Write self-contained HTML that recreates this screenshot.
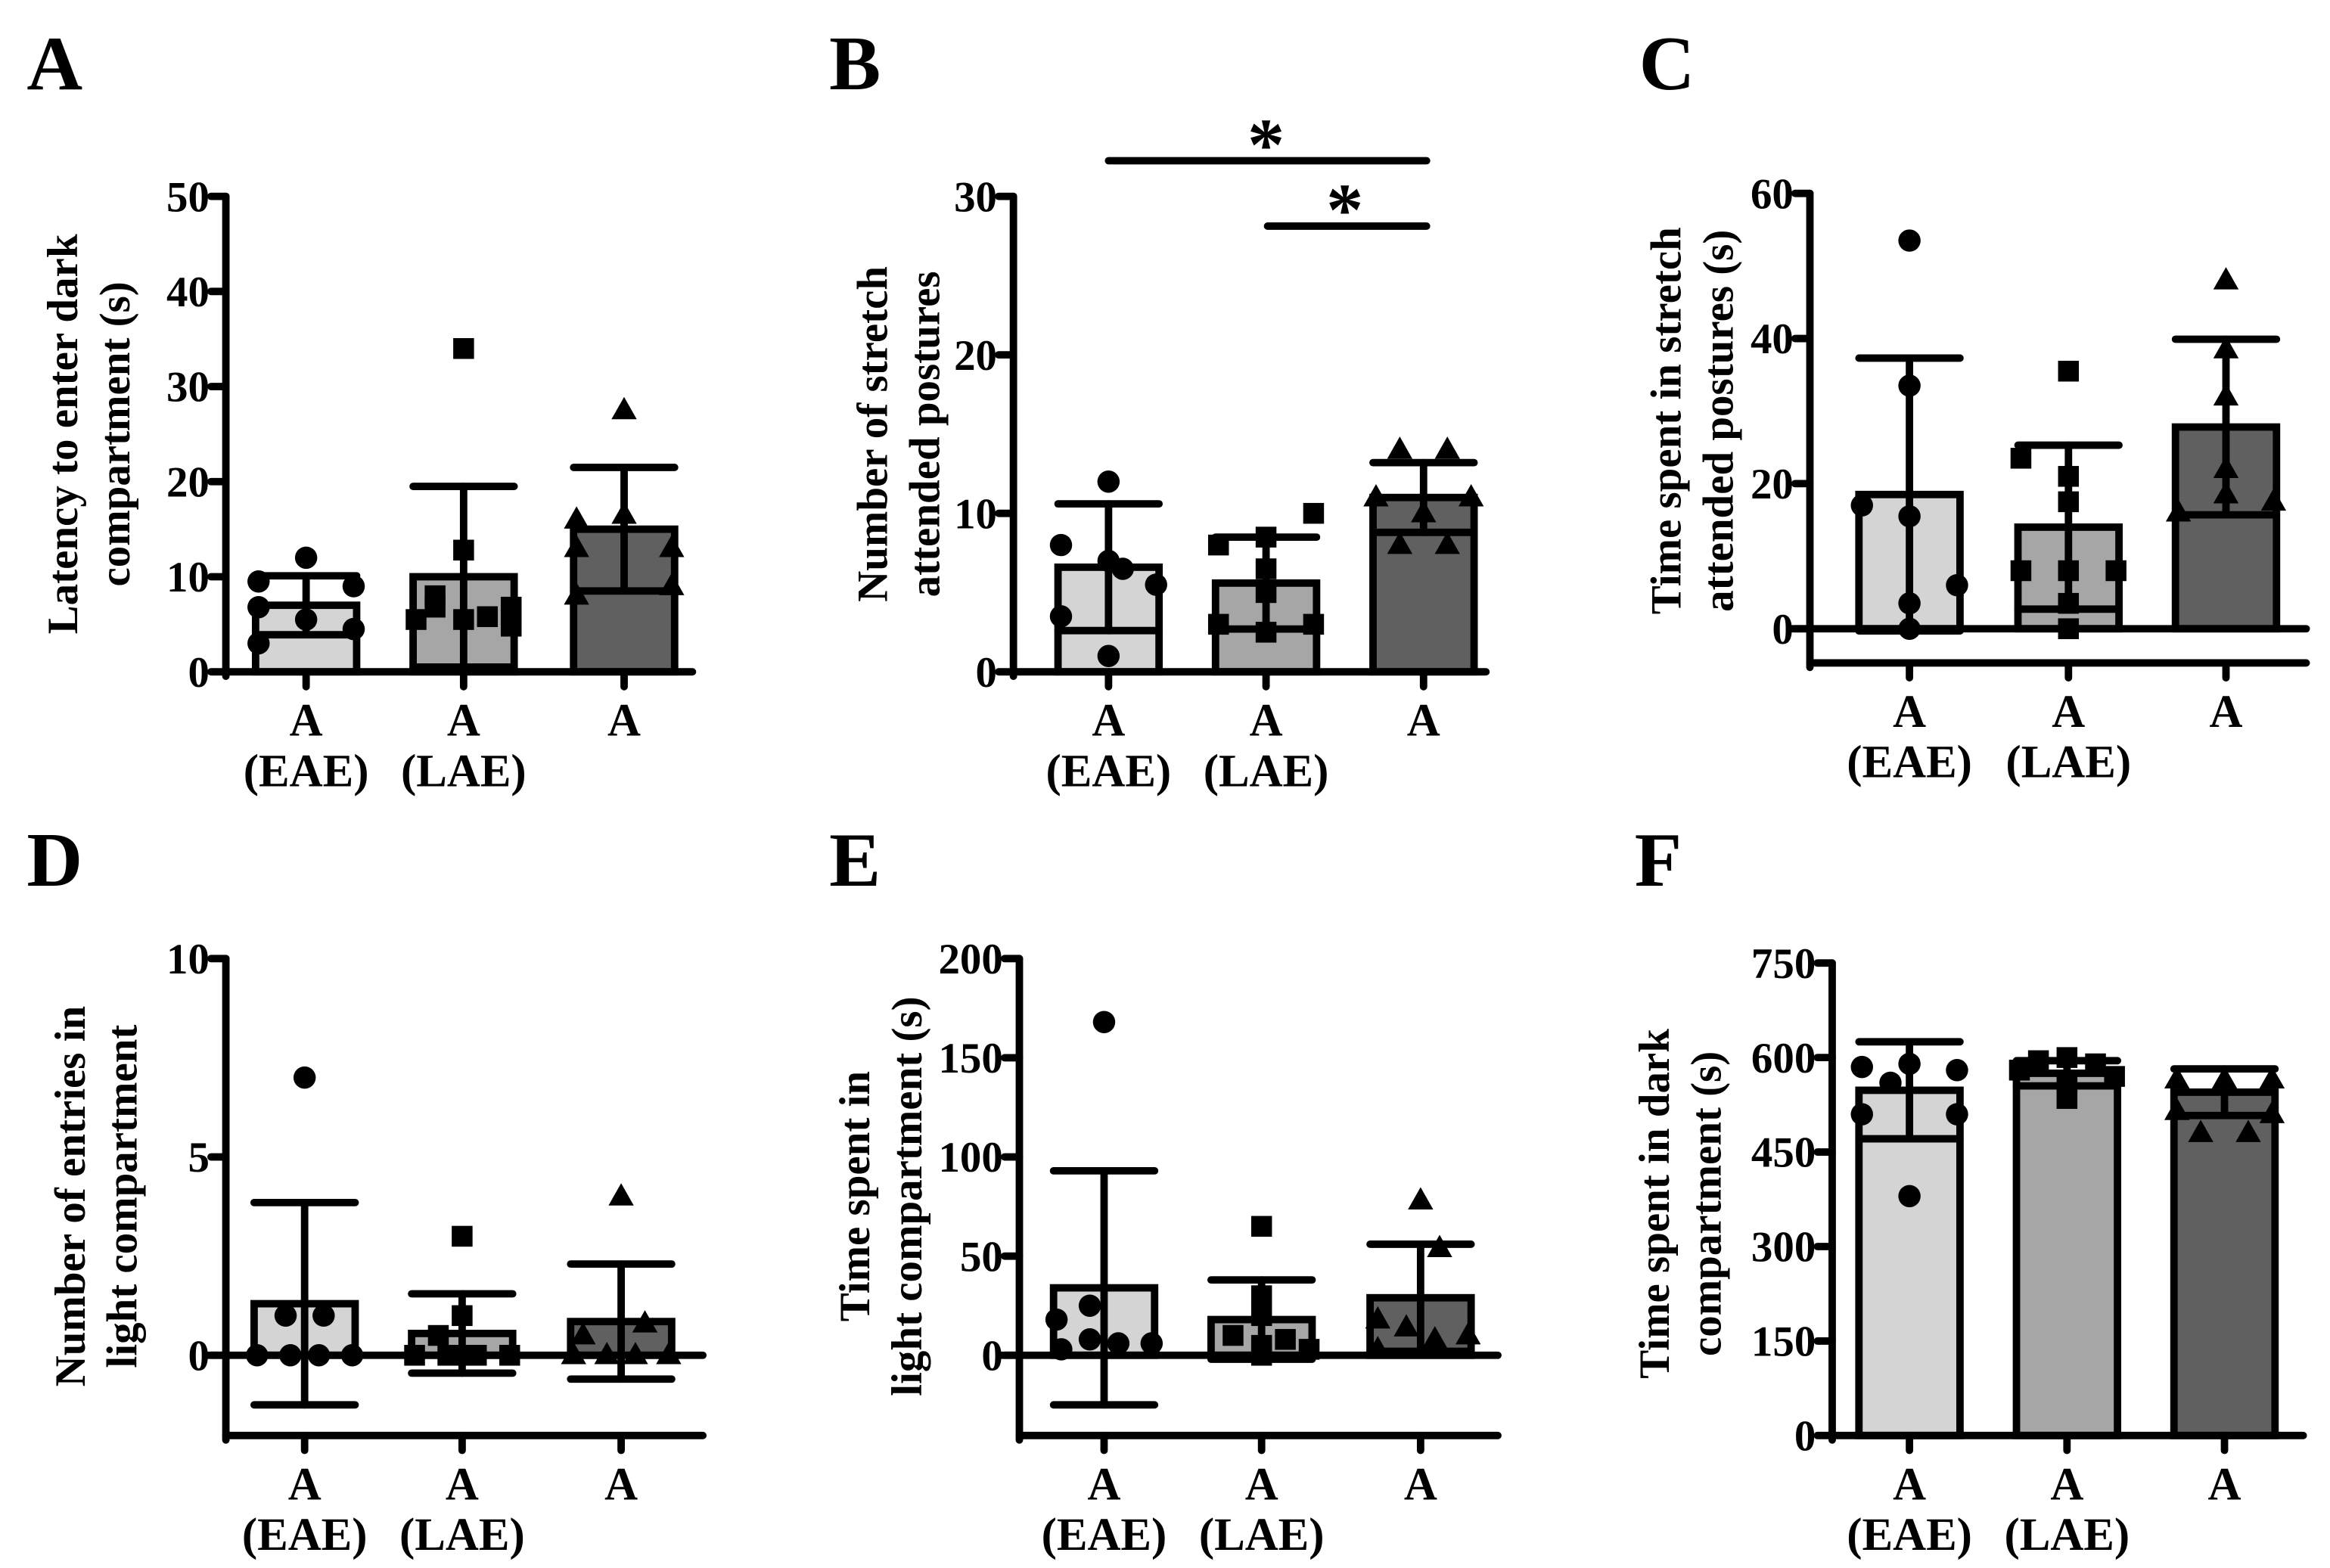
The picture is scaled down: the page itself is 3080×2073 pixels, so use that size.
<!DOCTYPE html>
<html><head><meta charset="utf-8">
<style>
html,body{margin:0;padding:0;background:#fff;}
svg{display:block;}
text{font-family:"Liberation Serif",serif;font-weight:bold;fill:#000;}
</style></head>
<body>
<svg id="fig" width="3080" height="2073" viewBox="0 0 1568 1055" xmlns="http://www.w3.org/2000/svg"></svg>
<script>
// ---- data (means, SD, individual points with jitter in half-bar-width units) ----
const groups = ["EAE","LAE","A"];
const barColors = ["#d4d4d4","#a6a6a6","#606060"];

const aMeans = [7, 10, 15];
const aSd = [3.1, 9.5, 6.5];
const aPts = [[12,9.5,9,6.8,5.5,4.5,3],[34,12.8,8,6.8,5.5,5.5,5.8,6.8,4.8],[27.5,16,16.5,13,13,8,9]];
const aJit = [[0,-1,1,-1,0,1,-1],[0,0,-0.6,-0.6,-1,0,0.5,1,1],[0,-1,0,-1,1,-1,1]];

const bMeans = [6.6, 5.6, 11];
const bSd = [4, 2.9, 2.2];
const bPts = [[12,8,7,5.5,3.5,1,6.5],[10,8.5,8,6.5,5,3,3,2.5],[14,14,11,11,10,8,8]];
const bJit = [[0,-1,0,1,-1,0,0.3],[1,0,-1,0,0,-1,1,0],[-0.5,0.5,-1,1,0,-0.5,0.5]];

const cMeans = [18.5, 14, 27.8];
const cSd = [18.8, 11.3, 12.1];
const cPts = [[53.5,33.5,17,15.5,6,3.5,0],[35.5,23.5,21,17.5,8,8,8,3.5,0],[48,38.5,32,22,18.5,17.5,16]];
const cJit = [[0,0,-1,0,1,0,0],[0,-1,0,0,-1,0,1,0,0],[0,0,0,0,0,1,-1]];

const dMeans = [1.3, 0.55, 0.85];
const dSd = [2.55, 1.0, 1.45];
const dPts = [[7,1,1,0,0,0,0],[3,1,0.5,0,0,0,0,0],[4,0.8,0.5,0,0,0,0]];
const dJit = [[0,-0.4,0.4,-1,-0.3,0.3,1],[0,0,-0.5,-1,-0.3,0.3,1,0],[0,0.5,-0.8,-1,-0.3,0.3,1]];

const eMeans = [34, 18, 29];
const eSd = [59, 20, 27];
const ePts = [[168,25,18,8,6,6,3],[65,30,20,10,8,5,3,0],[78,54,18,14,10,8,3]];
const eJit = [[0,-0.3,-1,-0.3,0.3,1,-0.9],[0,0,0,-0.6,0.5,0,1,0],[0,0.4,-0.9,-0.3,1,0.3,-0.9]];

const fMeans = [548, 575, 545];
const fSd = [77, 20, 37];
const fPts = [[585,590,580,560,510,510,380],[600,595,590,580,570,560,535],[565,565,565,515,510,480,480]];
const fJit = [[-1,0,1,-0.4,-1,1,0],[0,-0.6,0.6,-1,1,0,0],[-1,0,1,-1,1,-0.5,0.5]];

// ---- helpers ----
const NS = "http://www.w3.org/2000/svg";
const svg = document.getElementById("fig");
function mk(tag, attrs, parent){
  const e = document.createElementNS(NS, tag);
  for (const k in attrs) e.setAttribute(k, attrs[k]);
  (parent||svg).appendChild(e);
  return e;
}
function txt(s, x, y, size, anchor, parent, name){
  const t = mk("text",{x:x,y:y,"font-size":size,"text-anchor":anchor||"middle"},parent);
  t.textContent = s;
  
  
  return t;
}

function panel(cfg){
  const g = mk("g",{});
  
  
  const y = v => cfg.y0 - (v - 0) * (cfg.y0 - cfg.yTop) / cfg.yMax;
  const bw = 68, hw = bw/2;
  txt(cfg.letter, cfg.lx, cfg.ly, 52, "start", g, "panel-letter");
  const tg = mk("g",{transform:"translate("+cfg.tx+","+cfg.ty+") rotate(-90)"},g);
  
  
  txt(cfg.title[0], 0, 0, 29, "middle", tg, "y-axis-title-line1");
  txt(cfg.title[1], 0, 35, 29, "middle", tg, "y-axis-title-line2");
  cfg.centers.forEach((cx,i)=>{
    const top = y(cfg.means[i]);
    const r = mk("rect",{x:cx-hw,y:top,width:bw,height:cfg.y0-top,fill:barColors[i],stroke:"#000","stroke-width":5},g);
    
    
  });
  cfg.centers.forEach((cx,i)=>{
    cfg.pts[i].forEach((v,j)=>{
      const px = cx + cfg.jit[i][j]*(hw-2), py = y(v);
      let m;
      if (i===0) m = mk("circle",{cx:px,cy:py,r:7.5,fill:"#000"},g);
      else if (i===1) m = mk("rect",{x:px-7,y:py-7,width:14,height:14,fill:"#000"},g);
      else m = mk("polygon",{points:(px)+","+(py-9)+" "+(px-8.5)+","+(py+6)+" "+(px+8.5)+","+(py+6),fill:"#000"},g);
      
      
    });
  });
  cfg.centers.forEach((cx,i)=>{
    const hi = y(cfg.means[i]+cfg.sd[i]);
    const lo = y(cfg.means[i]-cfg.sd[i]);
    const eg = mk("g",{stroke:"#000","stroke-width":5,"stroke-linecap":"round"},g);
    
    
    mk("line",{x1:cx,y1:hi,x2:cx,y2:lo},eg);
    mk("line",{x1:cx-34,y1:hi,x2:cx+34,y2:hi},eg);
    mk("line",{x1:cx-34,y1:lo,x2:cx+34,y2:lo},eg);
  });
  const ag = mk("g",{stroke:"#000","stroke-width":5,"stroke-linecap":"round"},g);
  
  
  const yBottom = cfg.floorY ? cfg.floorY+3 : cfg.y0+3;
  mk("line",{x1:cfg.ax,y1:cfg.yTop,x2:cfg.ax,y2:yBottom},ag);
  mk("line",{x1:cfg.ax-(cfg.floorY?12:0),y1:cfg.y0,x2:cfg.xEnd,y2:cfg.y0},ag);
  if (cfg.floorY) mk("line",{x1:cfg.ax,y1:cfg.floorY,x2:cfg.xEnd,y2:cfg.floorY},ag);
  const baseY = cfg.floorY || cfg.y0;
  cfg.ticks.forEach(v=>{
    mk("line",{x1:cfg.ax-10,y1:y(v),x2:cfg.ax,y2:y(v)},ag);
    txt(String(v), cfg.ax-11, y(v)+10, 29, "end", g, "y-tick-label");
  });
  cfg.centers.forEach((cx,i)=>{
    mk("line",{x1:cx,y1:baseY,x2:cx,y2:baseY+10},ag);
    txt("A", cx, baseY+43, 31, "middle", g, "x-tick-label");
    if (i<2) txt("("+groups[i]+")", cx, baseY+77, 31, "middle", g, "x-tick-sublabel");
  });
  return g;
}

panel({letter:"A",lx:18,ly:60,tx:52,ty:292,title:["Latency to enter dark","compartment (s)"],
  ax:152,y0:452,yTop:132,yMax:50,ticks:[0,10,20,30,40,50],xEnd:466,centers:[206,312,420],
  means:aMeans,sd:aSd,pts:aPts,jit:aJit});
panel({letter:"B",lx:558,ly:60,tx:597,ty:292,title:["Number of stretch","attended postures"],
  ax:682,y0:452,yTop:132,yMax:30,ticks:[0,10,20,30],xEnd:1000,centers:[746,852,958],
  means:bMeans,sd:bSd,pts:bPts,jit:bJit});
panel({letter:"C",lx:1103,ly:60,tx:1131,ty:283,title:["Time spent in stretch","attended postures (s)"],
  ax:1218,y0:423,yTop:130,yMax:60,ticks:[0,20,40,60],xEnd:1552,centers:[1285,1392,1498],floorY:446,
  means:cMeans,sd:cSd,pts:cPts,jit:cJit});
panel({letter:"D",lx:18,ly:596,tx:57,ty:805,title:["Number of entries in","light compartment"],
  ax:152,y0:912,yTop:645,yMax:10,ticks:[0,5,10],xEnd:473,centers:[205,311,418],floorY:966,
  means:dMeans,sd:dSd,pts:dPts,jit:dJit});
panel({letter:"E",lx:558,ly:596,tx:585,ty:805,title:["Time spent in","light compartment (s)"],
  ax:686,y0:912,yTop:645,yMax:200,ticks:[0,50,100,150,200],xEnd:1008,centers:[743,849,956],floorY:966,
  means:eMeans,sd:eSd,pts:ePts,jit:eJit});
panel({letter:"F",lx:1100,ly:596,tx:1123,ty:810,title:["Time spent in dark","compartment (s)"],
  ax:1233,y0:966,yTop:648,yMax:750,ticks:[0,150,300,450,600,750],xEnd:1550,centers:[1285,1391,1497],
  means:fMeans,sd:fSd,pts:fPts,jit:fJit});

const sg = mk("g",{stroke:"#000","stroke-width":5,"stroke-linecap":"round"});


mk("line",{x1:746,y1:108,x2:960,y2:108},sg);
mk("line",{x1:853,y1:152,x2:960,y2:152},sg);
txt("*", 852, 114, 50, "middle", svg, "significance-star");
txt("*", 905, 158, 50, "middle", svg, "significance-star");
</script>
</body></html>
